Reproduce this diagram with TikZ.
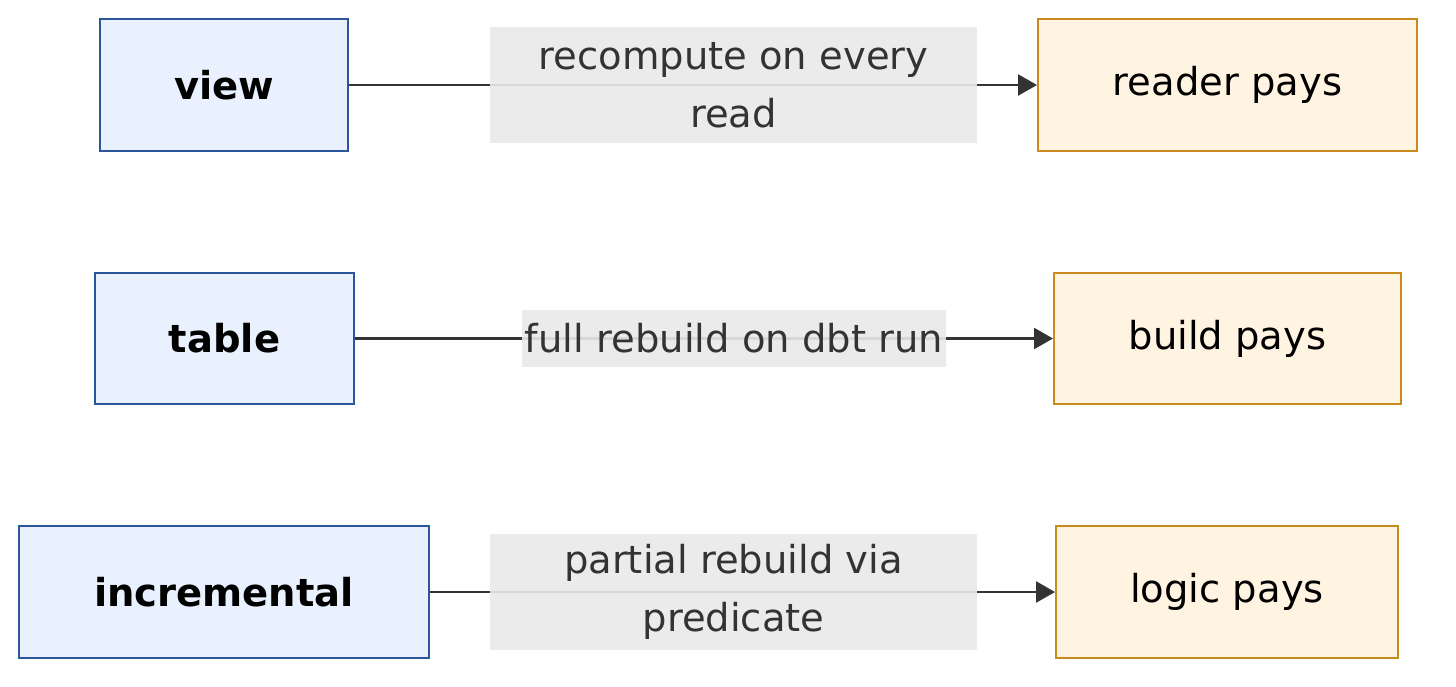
\documentclass[tikz,border=0pt]{standalone}
\usepackage{fontspec}
\setmainfont{DejaVu Sans}
\usetikzlibrary{arrows.meta}
\definecolor{bluefill}{HTML}{E8F1FD}
\definecolor{blueline}{HTML}{2B579A}
\definecolor{orfill}{HTML}{FFF4E1}
\definecolor{orline}{HTML}{C98A1E}
\definecolor{edgecol}{HTML}{333333}
\definecolor{lblfill}{HTML}{E9E9E9}
\tikzset{
  kind/.style={draw=blueline, fill=bluefill, line width=2pt, inner sep=0pt,
    font=\fontsize{38.5}{46}\selectfont\bfseries, text=black},
  payer/.style={draw=orline, fill=orfill, line width=2pt, inner sep=0pt,
    font=\fontsize{38.5}{46}\selectfont, text=black},
  elabel/.style={fill=lblfill, fill opacity=0.9, text opacity=1, inner sep=0pt,
    text=edgecol, align=center, font=\fontsize{38.5}{58}\selectfont},
  edge/.style={draw=edgecol, line width=2.5pt, -{Triangle[length=19pt,width=21pt]}}
}
\begin{document}
\begin{tikzpicture}[x=1pt,y=-1pt]
\useasboundingbox (0,0) rectangle (1456,686);
% left nodes
\node[kind, minimum width=248pt, minimum height=132pt] (view) at (224,85) {view};
\node[kind, minimum width=259pt, minimum height=131pt] (table) at (224.5,338.5) {table};
\node[kind, minimum width=410pt, minimum height=132pt] (incr) at (224,592) {incremental};
% right nodes
\node[payer, minimum width=379pt, minimum height=132pt] (reader) at (1227.5,85) {reader pays};
\node[payer, minimum width=347pt, minimum height=131pt] (build) at (1227.5,338.5) {build pays};
\node[payer, minimum width=342pt, minimum height=132pt] (logic) at (1227,592) {logic pays};
% edges
\draw[edge] (view) -- (reader);
\draw[edge] (table) -- (build);
\draw[edge] (incr) -- (logic);
% edge labels
\node[elabel, minimum width=487pt, minimum height=116pt] (l1) at (733.5,85) {recompute on every \\ read};
\node[elabel, minimum width=424pt, minimum height=57pt] (l2) at (734,338.5) {full rebuild on dbt run};
\node[elabel, minimum width=487pt, minimum height=116pt] (l3) at (733.5,592) {partial rebuild via \\ predicate};
\end{tikzpicture}
\end{document}
